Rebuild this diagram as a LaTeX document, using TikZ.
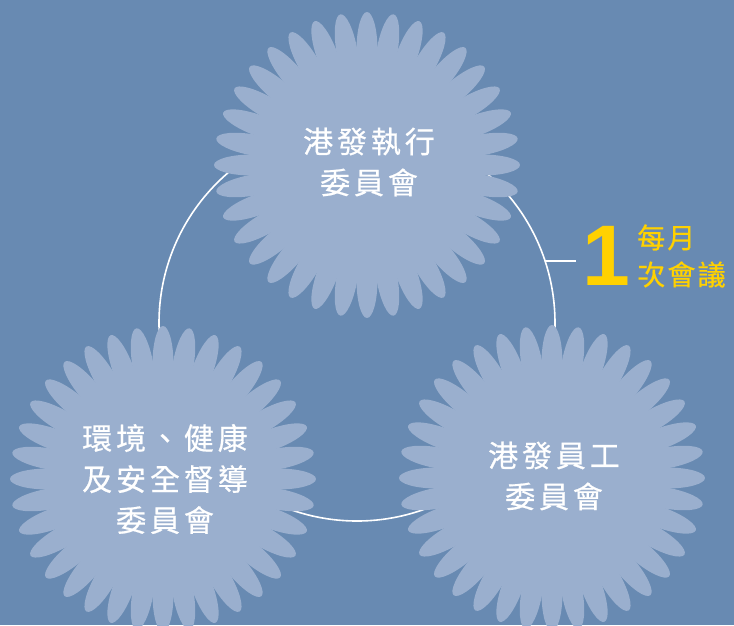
\documentclass[tikz,border=0pt]{standalone}
\usepackage{fontspec}
\newfontfamily\cjk[LetterSpace=13, FakeBold=0.6]{Noto Sans CJK TC}
\newfontfamily\cjknote[LetterSpace=8, FakeBold=0.6]{Noto Sans CJK TC}
\newfontfamily\numfont{Liberation Sans}
\definecolor{bgblue}{RGB}{104,138,178}
\definecolor{petal}{RGB}{154,175,206}
\definecolor{gold}{RGB}{255,209,0}
\tikzset{
  burst/.pic      = {\fill[petal] (0,0) circle (113pt);
                     \foreach \a in {0,10,...,350}
                       \fill[petal, rotate=\a] (115pt,0pt) ellipse (38pt and 10.5pt);},
  committee/.style = {align=center, text=white, inner sep=0pt,
                      font=\cjk\fontsize{30}{41}\selectfont},
  ring/.style     = {draw=white, line width=1.6pt},
  count/.style    = {text=gold, inner sep=0pt, font=\numfont\bfseries\fontsize{86}{86}\selectfont},
  note/.style     = {text=gold, align=left, inner sep=0pt,
                     font=\cjknote\fontsize{28}{37}\selectfont}
}
\begin{document}
\begin{tikzpicture}[x=1pt, y=-1pt]
  \useasboundingbox (0,0) rectangle (734,625);
  \fill[bgblue] (0,0) rectangle (734,625);
  % meeting cycle
  \draw[ring] (357,323) circle (198pt);
  \coordinate (tick) at (545,261);
  % committees
  \pic at (367,165) {burst};
  \pic at (163,479) {burst};
  \pic at (552,478) {burst};
  \node [committee] (exec)  at (369,162) {港發執行\\委員會};
  \node [committee] (ehs)   at (165,479) {環境、健康\\及安全督導\\委員會};
  \node [committee] (staff) at (554,476) {港發員工\\委員會};
  % monthly meeting
  \node [count] (one) at (606,256) {1};
  \node [note, anchor=west] (monthly) at (637,256) {每月\\次會議};
  \draw[ring] (tick) -- ([xshift=-6pt]one.west |- tick);
\end{tikzpicture}
\end{document}
